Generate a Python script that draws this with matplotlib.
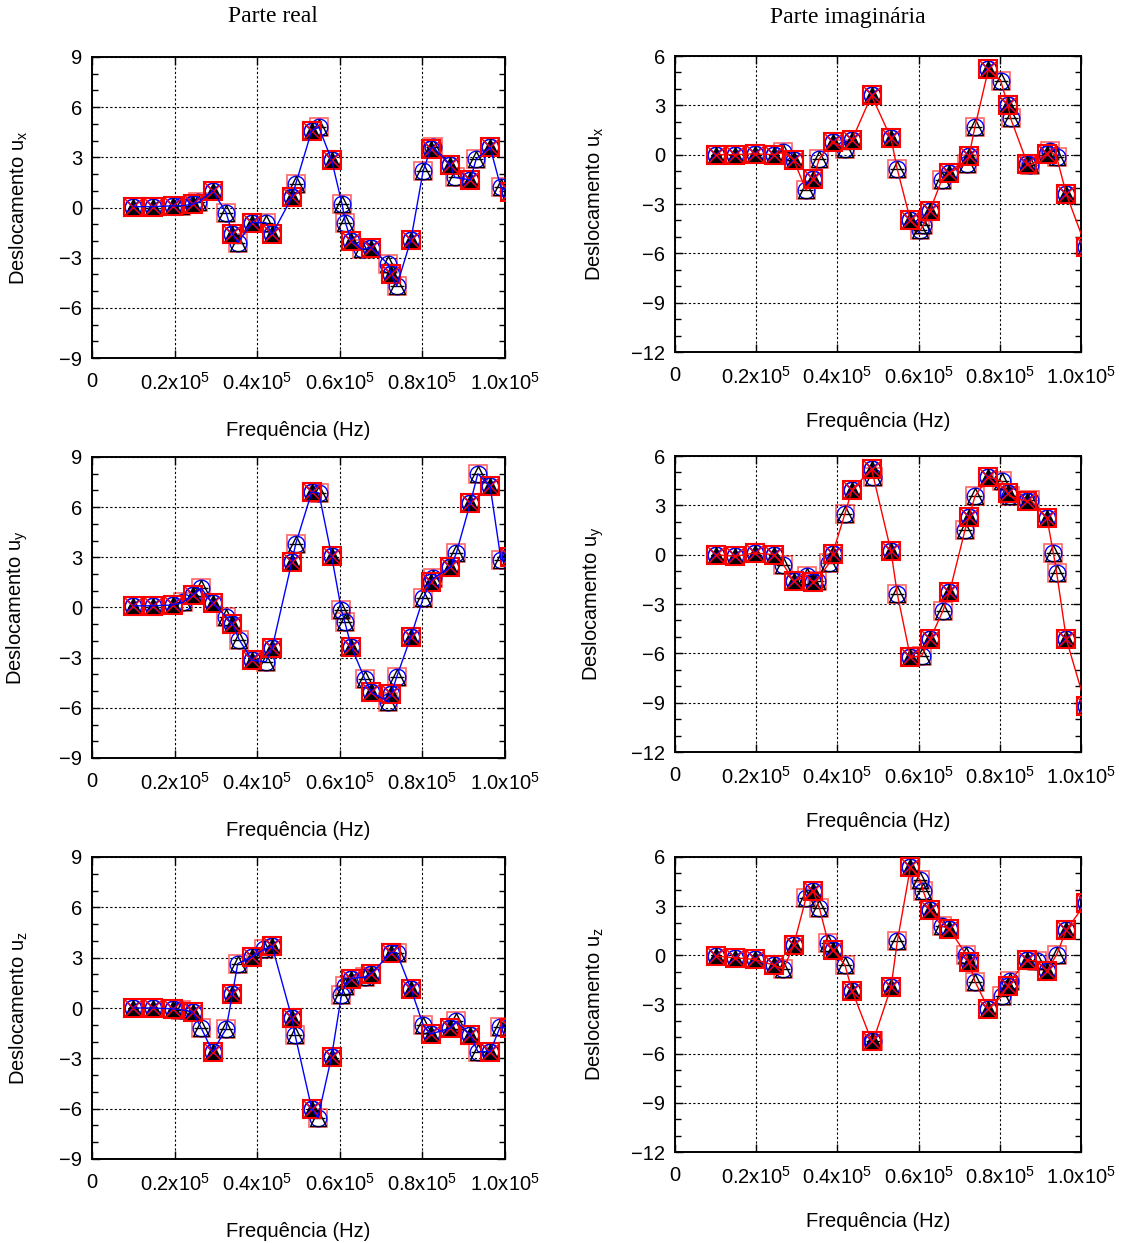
import matplotlib
matplotlib.use("Agg")
import matplotlib.pyplot as plt
from matplotlib.ticker import MultipleLocator

plt.rcParams['font.family'] = ['Liberation Sans', 'DejaVu Sans']
plt.rcParams['mathtext.default'] = 'regular'

# frequencias do metodo principal (Hz)
freq = [10000, 14800, 19600, 24400, 29200, 34000, 38800, 43600, 48400, 53200,
        58000, 62800, 67600, 72400, 77200, 82000, 86800, 91600, 96400, 101200]

# deslocamentos - parte real
ux_re = [0.05, 0.05, 0.1, 0.2, 1.0, -1.6, -0.9, -1.6, 0.6, 4.6,
         2.85, -2.0, -2.4, -4.0, -1.95, 3.5, 2.55, 1.65, 3.6, 0.9]
uy_re = [0.1, 0.1, 0.15, 0.75, 0.25, -1.0, -3.15, -2.45, 2.75, 6.9,
         3.1, -2.35, -5.05, -5.2, -1.75, 1.55, 2.4, 6.25, 7.25, 3.0]
uz_re = [0.0, 0.0, -0.05, -0.25, -2.6, 0.85, 3.05, 3.7, -0.6, -6.0,
         -2.9, 1.75, 2.05, 3.3, 1.15, -1.55, -1.2, -1.6, -2.6, -1.2]

# deslocamentos - parte imaginaria
ux_im = [0.0, 0.0, 0.05, 0.0, -0.3, -1.45, 0.8, 0.9, 3.6, 1.0,
         -4.0, -3.4, -1.1, -0.1, 5.2, 3.0, -0.55, 0.05, -2.4, -5.6]
uy_im = [0.0, -0.1, 0.1, 0.0, -1.6, -1.65, 0.05, 3.95, 5.2, 0.2,
         -6.25, -5.15, -2.3, 2.3, 4.75, 3.75, 3.25, 2.25, -5.15, -9.2]
uz_im = [-0.05, -0.15, -0.25, -0.6, 0.6, 3.95, 0.35, -2.15, -5.2, -1.95,
         5.4, 2.75, 1.6, -0.4, -3.25, -1.85, -0.3, -0.95, 1.55, 3.2]

# segundo conjunto de pontos (frequencias proprias de cada caso)
ux_re_f2 = [21650, 25700, 32480, 35290, 42100, 49320, 54930, 60550, 61350,
            65360, 71770, 73780, 80190, 82600, 87810, 93020, 99000]
ux_re_2 = [0.1, 0.3, -0.3, -2.1, -0.9, 1.4, 4.8, 0.2, -0.9,
           -2.5, -3.4, -4.7, 2.2, 3.6, 1.8, 2.9, 1.2]

uy_re_f2 = [22000, 26460, 32480, 35690, 42100, 49320, 54930, 60390, 61190,
            66000, 71770, 73780, 80190, 82600, 88210, 93420, 99030]
uy_re_2 = [0.3, 1.15, -0.55, -1.95, -3.25, 3.8, 6.85, -0.15, -0.85,
           -4.25, -5.65, -4.15, 0.55, 1.75, 3.25, 8.0, 2.85]

uz_re_f2 = [21650, 26460, 32480, 35290, 41700, 49160, 54690, 60390, 61190,
            66000, 73780, 80190, 88210, 93420, 98800]
uz_re_2 = [-0.1, -1.2, -1.25, 2.65, 3.5, -1.6, -6.55, 0.75, 1.3,
           1.85, 3.3, -1.0, -0.8, -2.6, -1.15]

ux_im_f2 = [26680, 32270, 35550, 41870, 54760, 60340, 61170, 65680, 71840,
            73890, 80210, 82680, 87440, 92370, 94010]
ux_im_2 = [0.15, -2.15, -0.25, 0.35, -0.9, -4.6, -4.3, -1.55, -0.55,
           1.7, 4.5, 2.2, -0.65, 0.25, -0.15]

uy_im_f2 = [26680, 32430, 34890, 38010, 41870, 48850, 54760, 60750, 65930,
            71430, 73890, 80460, 82510, 87440, 93190, 94010]
uy_im_2 = [-0.6, -1.3, -1.6, -0.5, 2.5, 4.75, -2.4, -6.15, -3.45,
           1.5, 3.55, 4.45, 3.55, 3.35, 0.1, -1.1]

uz_im_f2 = [26680, 32270, 35550, 37770, 41870, 48850, 54760, 60340, 61170,
            65680, 71670, 73890, 80460, 82510, 89080, 94010]
uz_im_2 = [-0.85, 3.5, 2.9, 0.75, -0.6, -5.2, 0.85, 4.6, 3.9,
           1.8, 0.05, -1.6, -2.5, -1.55, -0.35, 0.05]

xticks = [0, 20000, 40000, 60000, 80000, 100000]
xlabels = ['0', '0.2x10$^5$', '0.4x10$^5$', '0.6x10$^5$', '0.8x10$^5$', '1.0x10$^5$']

W, H = 1122, 1243
fig = plt.figure(figsize=(W / 100, H / 100), dpi=100)


def painel(rect, f1, y1, f2, y2, cor, ymin, ymax, comp, label_x, label_y):
    l, t, r, b = rect
    ax = fig.add_axes([l / W, 1 - b / H, (r - l) / W, (b - t) / H])

    pts = sorted(zip(list(f1) + list(f2), list(y1) + list(y2)))
    ax.plot([p[0] for p in pts], [p[1] for p in pts], color=cor, lw=1.0, zorder=6)

    # segundo conjunto
    ax.plot(f2, y2, ls='none', marker='s', ms=13, mfc='none', mec='red', mew=1.2, alpha=0.6, zorder=3)
    ax.plot(f2, y2, ls='none', marker='o', ms=12, mfc='none', mec='blue', mew=1.0, zorder=3)
    ax.plot(f2, y2, ls='none', marker='^', ms=11, mfc='none', mec='black', mew=1.0, zorder=3)
    ax.plot(f2, y2, ls='none', marker='_', ms=10, mec='black', mew=1.0, zorder=3)

    # metodo principal
    ax.plot(f1, y1, ls='none', marker='o', ms=12, mfc='none', mec='blue', mew=1.2, zorder=4)
    ax.plot(f1, y1, ls='none', marker='^', ms=12, color='black', zorder=4)
    ax.plot(f1, y1, ls='none', marker='x', ms=8, mec='blue', mew=1.2, zorder=4)
    ax.plot(f1, y1, ls='none', marker='s', ms=13, mfc='none', mec='red', mew=1.5, zorder=5)
    ax.plot(f1, y1, ls='none', marker='x', ms=12.5, mec='red', mew=1.0, zorder=5)

    ax.set_xlim(0, 100000)
    ax.set_ylim(ymin, ymax)
    ax.set_xticks(xticks)
    ax.set_xticklabels(xlabels)
    ax.set_yticks(range(ymin, ymax + 1, 3))
    ax.yaxis.set_minor_locator(MultipleLocator(1))
    ax.grid(True, which='major', color='black', ls=(0, (2, 2)), lw=0.8)
    ax.tick_params(which='both', direction='in', top=True, right=True, labelsize=14.5)
    ax.tick_params(which='major', length=6, width=1)
    ax.tick_params(which='minor', length=4, width=1)
    ax.tick_params(axis='x', pad=10)
    ax.tick_params(axis='y', pad=7)
    for s in ax.spines.values():
        s.set_linewidth(1.4)

    ax.set_xlabel('Frequência (Hz)', fontsize=14.5)
    ax.xaxis.set_label_coords(0.5, label_x)
    ax.set_ylabel('Deslocamento u$_' + comp + '$', fontsize=14.5)
    ax.yaxis.set_label_coords(label_y, 0.5)
    return ax


esq = [(92, 57, 505, 358), (92, 457, 505, 758), (92, 857, 505, 1159)]
dir_ = [(675, 56, 1081, 352), (675, 456, 1081, 752), (675, 857, 1081, 1152)]

painel(esq[0], freq, ux_re, ux_re_f2, ux_re_2, 'blue', -9, 9, 'x', -0.208, -0.15)
painel(esq[1], freq, uy_re, uy_re_f2, uy_re_2, 'blue', -9, 9, 'y', -0.208, -0.15)
painel(esq[2], freq, uz_re, uz_re_f2, uz_re_2, 'blue', -9, 9, 'z', -0.208, -0.15)
painel(dir_[0], freq, ux_im, ux_im_f2, ux_im_2, 'red', -12, 6, 'x', -0.203, -0.17)
painel(dir_[1], freq, uy_im, uy_im_f2, uy_im_2, 'red', -12, 6, 'y', -0.203, -0.17)
painel(dir_[2], freq, uz_im, uz_im_f2, uz_im_2, 'red', -12, 6, 'z', -0.203, -0.17)

fig.text(273 / W, 1 - 17 / H, 'Parte real', family='Liberation Serif', fontsize=17,
         ha='center', va='center')
fig.text(848 / W, 1 - 17 / H, 'Parte imaginária', family='Liberation Serif', fontsize=17,
         ha='center', va='center')

fig.savefig('out.png', dpi=100)
